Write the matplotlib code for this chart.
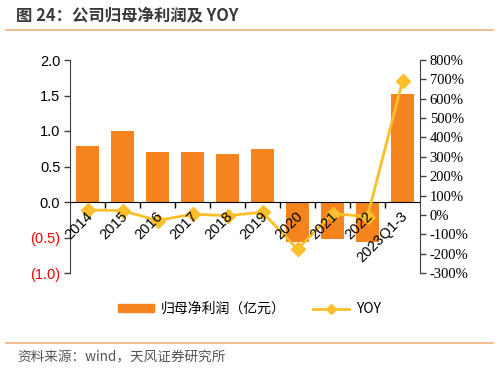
import numpy as np
import matplotlib
matplotlib.use('Agg')
import matplotlib.pyplot as plt
import matplotlib.transforms as mtransforms
from matplotlib.ticker import FuncFormatter, FixedLocator
from matplotlib.lines import Line2D
from matplotlib.patches import Patch

plt.rcParams['font.family'] = ['Noto Sans CJK SC', 'DejaVu Sans']

# dados
categorias = ['2014', '2015', '2016', '2017', '2018', '2019', '2020', '2021', '2022', '2023Q1-3']
lucro = [0.79, 1.00, 0.71, 0.70, 0.68, 0.75, -0.56, -0.52, -0.57, 1.52]
yoy = [26, 22, -29, 4, -4, 14, -177, 7, -9, 692]

COR_BARRA = '#F5841F'
COR_LINHA = '#FBBF2B'

fig = plt.figure(figsize=(4.99, 3.71), dpi=100)
ax = fig.add_axes([70 / 499, 1 - 273 / 371, 350 / 499, 213 / 371])
x = np.arange(len(categorias))

ax.bar(x, lucro, width=0.63, color=COR_BARRA, zorder=2)
ax.set_xlim(-0.5, len(categorias) - 0.5)
ax.set_ylim(-1.0, 2.0)
ax.set_yticks(np.arange(-1.0, 2.01, 0.5))

def fmt_esq(v, pos):
    if v < 0:
        return f'({abs(v):.1f})'
    return f'{v:.1f}'

ax.yaxis.set_major_formatter(FuncFormatter(fmt_esq))
for lbl, v in zip(ax.get_yticklabels(), ax.get_yticks()):
    lbl.set_fontfamily('Liberation Sans')
    lbl.set_fontsize(10.5)
    lbl.set_color('red' if v < 0 else 'black')

ax.spines['top'].set_visible(False)
ax.spines['right'].set_visible(False)
ax.spines['bottom'].set_position(('data', 0))
ax.spines['left'].set_color('#404040')
ax.tick_params(axis='y', length=4, width=1, color='#404040', pad=3)

# marcas nas fronteiras; rótulos desenhados à parte, por cima de tudo
ax.set_xticks([])
ax.xaxis.set_minor_locator(FixedLocator(x[:-1] + 0.5))
ax.tick_params(axis='x', which='minor', length=4, width=1, color='black')

ax2 = ax.twinx()
ax2.plot(x, yoy, color=COR_LINHA, lw=2, marker='D', markersize=7, zorder=3)
ax2.set_ylim(-300, 800)
ax2.set_yticks(np.arange(-300, 801, 100))
ax2.yaxis.set_major_formatter(FuncFormatter(lambda v, p: f'{v:.0f}%'))
for lbl in ax2.get_yticklabels():
    lbl.set_fontfamily('Liberation Serif')
    lbl.set_fontsize(10.5)
for s in ['top', 'left', 'bottom']:
    ax2.spines[s].set_visible(False)
ax2.spines['right'].set_color('#404040')
ax2.tick_params(axis='y', length=4, width=1, color='#404040', pad=3)

trans = mtransforms.offset_copy(ax.transData, fig=fig, x=3, y=-12, units='dots')
for xi, nome in zip(x, categorias):
    ax2.text(xi, 0, nome, transform=trans, rotation=45, rotation_mode='anchor',
             ha='right', va='center', fontfamily='Liberation Sans', fontsize=10.5,
             zorder=10, clip_on=False)

# legenda
handles = [Patch(color=COR_BARRA, label='归母净利润（亿元）'),
           Line2D([0], [0], color=COR_LINHA, lw=2, marker='D', markersize=5, label='YOY')]
fig.legend(handles=handles, loc='center', bbox_to_anchor=(0.5, 1 - 309 / 371), ncol=2,
           frameon=False, fontsize=10, handlelength=2.6, handleheight=0.45,
           handletextpad=0.5, columnspacing=2.0)

# título e fonte
fig.text(16 / 499, 1 - 15 / 371, '图 24：公司归母净利润及 YOY', fontsize=11.8, color='#3a3a3a',
         va='center', ha='left', fontweight='bold')
fig.add_artist(Line2D([6 / 499, 493 / 499], [1 - 29.5 / 371] * 2, color='#F7B27A', lw=1.2))
fig.add_artist(Line2D([6 / 499, 493 / 499], [1 - 343 / 371] * 2, color='#F7B27A', lw=1.2))
fig.text(17 / 499, 1 - 357 / 371, '资料来源：wind，天风证券研究所', fontsize=9.8, color='#555555',
         va='center', ha='left')

fig.savefig('out.png', dpi=100)
